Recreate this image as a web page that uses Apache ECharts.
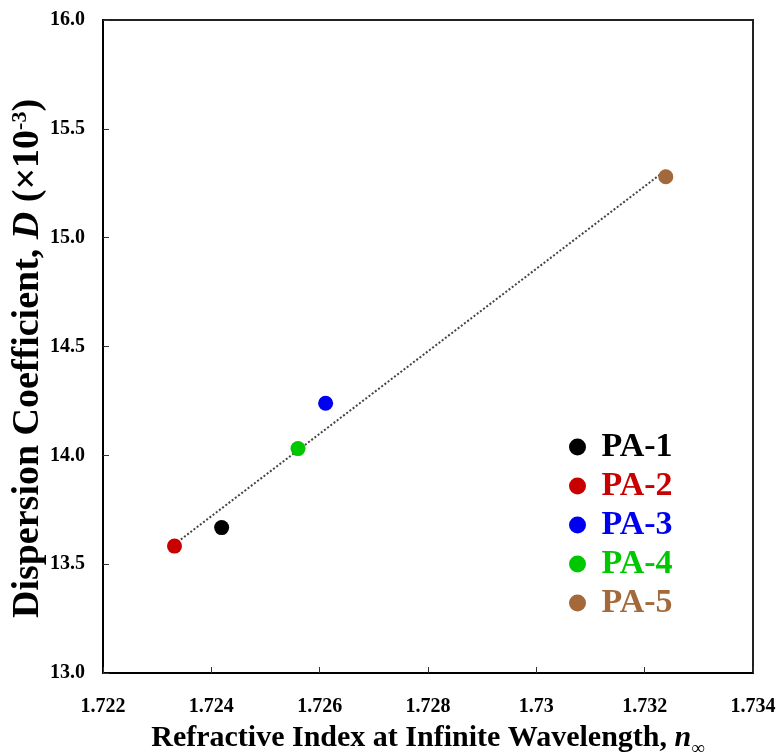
<!DOCTYPE html>
<html>
<head>
<meta charset="utf-8">
<script src="https://cdn.jsdelivr.net/npm/echarts@6/dist/echarts.min.js"></script>
<style>
html,body{margin:0;padding:0;background:#fff;}
#chart{width:783px;height:754px;}
</style>
</head>
<body>
<div id="chart"></div>
<script>
var names = ['PA-1', 'PA-2', 'PA-3', 'PA-4', 'PA-5'];
var colors = ['#000000', '#c80000', '#0000f0', '#00c800', '#a3693a'];
var nInf = [1.72419, 1.72332, 1.72611, 1.72560, 1.73239];
var dispD = [13.668, 13.583, 14.239, 14.031, 15.280];
var xTicks = [1.722, 1.724, 1.726, 1.728, 1.730, 1.732, 1.734];
var yTicks = [13.0, 13.5, 14.0, 14.5, 15.0, 15.5, 16.0];

// least squares trend line through all points
function fitLine(xs, ys) {
    var n = xs.length, mx = 0, my = 0;
    for (var i = 0; i < n; i++) { mx += xs[i]; my += ys[i]; }
    mx /= n; my /= n;
    var sxy = 0, sxx = 0;
    for (var i = 0; i < n; i++) {
        sxy += (xs[i] - mx) * (ys[i] - my);
        sxx += (xs[i] - mx) * (xs[i] - mx);
    }
    var k = sxy / sxx, b = my - k * mx;
    var x0 = Math.min.apply(null, xs), x1 = Math.max.apply(null, xs);
    return [[x0, k * x0 + b], [x1, k * x1 + b]];
}

var font = 'Liberation Serif';
var series = [{
    name: 'trend',
    type: 'line',
    data: fitLine(nInf, dispD),
    showSymbol: false,
    symbol: 'none',
    silent: true,
    z: 1,
    lineStyle: { color: '#444', width: 2, type: 'dotted' }
}];
for (var i = 0; i < names.length; i++) {
    series.push({
        name: names[i],
        type: 'scatter',
        symbol: 'circle',
        symbolSize: 15,
        z: 3,
        itemStyle: { color: colors[i], opacity: 1 },
        data: [[nInf[i], dispD[i]]]
    });
}

var chart = echarts.init(document.getElementById('chart'));
var option = {
    animation: false,
    backgroundColor: '#fff',
    grid: {
        left: 103, right: 30, top: 20, bottom: 81,
        show: true, borderColor: '#222', borderWidth: 2,
        containLabel: false,
        outerBoundsMode: 'none'
    },
    legend: {
        orient: 'vertical',
        left: 569,
        top: 430,
        padding: 0,
        itemWidth: 38,
        itemHeight: 17,
        itemGap: 5,
        icon: 'circle',
        textStyle: { fontFamily: font, fontWeight: 'bold', fontSize: 34 },
        data: names.map(function (n, i) {
            return { name: n, textStyle: { color: colors[i] } };
        })
    },
    xAxis: {
        type: 'value',
        min: xTicks[0],
        max: xTicks[xTicks.length - 1],
        interval: 0.002,
        name: '{t|Refractive Index at Infinite Wavelength, }{i|n}{s|∞}',
        nameLocation: 'middle',
        nameGap: 50,
        nameTextStyle: {
            rich: {
                t: { fontFamily: font, fontWeight: 'bold', fontSize: 30, color: '#000', verticalAlign: 'bottom' },
                i: { fontFamily: font, fontWeight: 'bold', fontStyle: 'italic', fontSize: 30, color: '#000', verticalAlign: 'bottom' },
                s: { fontFamily: font, fontSize: 19, color: '#000', verticalAlign: 'bottom', padding: [0, 0, -6, 0] }
            }
        },
        axisLine: { show: true, onZero: false, lineStyle: { color: '#000', width: 2 } },
        axisTick: { show: true, inside: true, length: 6, lineStyle: { color: '#333', width: 1 } },
        splitLine: { show: false },
        axisLabel: {
            margin: 24,
            fontFamily: font, fontWeight: 'bold', fontSize: 20, color: '#000',
            formatter: function (v) { return String(+v.toFixed(3)); }
        }
    },
    yAxis: {
        type: 'value',
        min: yTicks[0],
        max: yTicks[yTicks.length - 1],
        interval: 0.5,
        name: '{t|Dispersion Coefficient, }{i|D}{t| (×10}{s|-3}{t|)}',
        nameLocation: 'middle',
        nameGap: 56,
        nameMoveOverlap: false,
        nameTextStyle: {
            padding: [0, 24, 0, 0],
            rich: {
                t: { fontFamily: font, fontWeight: 'bold', fontSize: 38, color: '#000', verticalAlign: 'bottom' },
                i: { fontFamily: font, fontWeight: 'bold', fontStyle: 'italic', fontSize: 38, color: '#000', verticalAlign: 'bottom' },
                s: { fontFamily: font, fontWeight: 'bold', fontSize: 22, color: '#000', verticalAlign: 'top' }
            }
        },
        axisLine: { show: true, onZero: false, lineStyle: { color: '#000', width: 2 } },
        axisTick: { show: true, inside: true, length: 6, lineStyle: { color: '#333', width: 1 } },
        splitLine: { show: false },
        axisLabel: {
            margin: 18,
            fontFamily: font, fontWeight: 'bold', fontSize: 20, color: '#000',
            formatter: function (v) { return v.toFixed(1); }
        }
    },
    series: series
};
chart.setOption(option);
</script>
</body>
</html>
